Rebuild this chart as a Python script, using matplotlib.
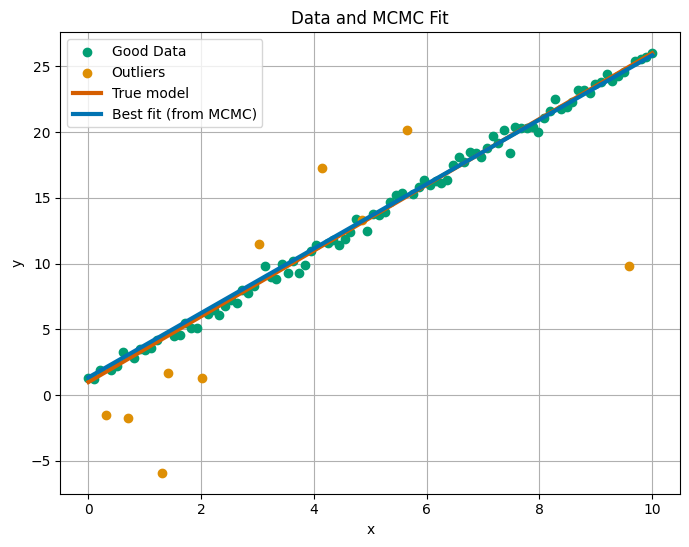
import numpy as np
import matplotlib
matplotlib.use("Agg")
import matplotlib.pyplot as plt

x_all = np.linspace(0, 10, 100)
outlier_idx = [3, 7, 13, 14, 20, 30, 41, 48, 56, 95]
outlier_y = [-1.5, -1.7, -5.9, 1.7, 1.3, 11.5, 17.3, 13.3, 20.2, 9.8]

good_idx = [0, 1, 2, 4, 5, 6, 8, 9, 10, 11, 12, 15, 16, 17, 18, 19,
            21, 22, 23, 24, 25, 26, 27, 28, 29, 31, 32, 33, 34, 35, 36, 37, 38, 39, 40,
            42, 43, 44, 45, 46, 47, 49, 50, 51, 52, 53, 54, 55, 57, 58, 59, 60,
            61, 62, 63, 64, 65, 66, 67, 68, 69, 70, 71, 72, 73, 74, 75, 76, 77, 78, 79, 80,
            81, 82, 83, 84, 85, 86, 87, 88, 89, 90, 91, 92, 93, 94, 96, 97, 98, 99]
good_y = [1.3, 1.2, 1.9, 1.9, 2.2, 3.3, 2.8, 3.5, 3.4, 3.6, 4.2, 4.5, 4.6, 5.5, 5.1, 5.1,
          6.2, 6.5, 6.1, 6.8, 7.2, 7.0, 8.0, 7.8, 8.3, 9.8, 9.0, 8.8, 10.0, 9.3, 10.2, 9.3, 9.9, 11.0, 11.4,
          11.6, 11.8, 11.4, 11.9, 12.4, 13.4, 12.5, 13.8, 13.7, 13.9, 14.7, 15.2, 15.4, 15.3, 15.8, 16.4, 16.0,
          16.3, 16.1, 16.4, 17.5, 18.1, 17.7, 18.5, 18.4, 18.1, 18.8, 19.7, 19.2, 20.2, 18.4, 20.4, 20.3, 20.3, 20.4, 20.0, 21.1,
          21.6, 22.5, 21.8, 21.9, 22.3, 23.2, 23.2, 23.0, 23.7, 23.8, 24.4, 23.9, 24.3, 24.6, 25.4, 25.6, 25.7, 26.0]

true_slope, true_intercept = 2.5, 1.0
fit_slope, fit_intercept = 2.45, 1.35

fig = plt.figure(figsize=(6.89, 5.47), dpi=100)
ax = fig.add_axes([0.0875, 0.0974, 0.8999, 0.8435])

ax.scatter(x_all[good_idx], good_y, color="#029e73", label="Good Data", zorder=2)
ax.scatter(x_all[outlier_idx], outlier_y, color="#de8f05", label="Outliers", zorder=2)
ax.plot(x_all, true_slope * x_all + true_intercept, color="#d55e00", lw=3, label="True model", zorder=3)
ax.plot(x_all, fit_slope * x_all + fit_intercept, color="#0173b2", lw=3, label="Best fit (from MCMC)", zorder=4)

ax.set_xlabel("x")
ax.set_ylabel("y")
ax.set_title("Data and MCMC Fit")
ax.grid(True)
ax.legend(loc="upper left")
fig.savefig("out.png", dpi=100)
